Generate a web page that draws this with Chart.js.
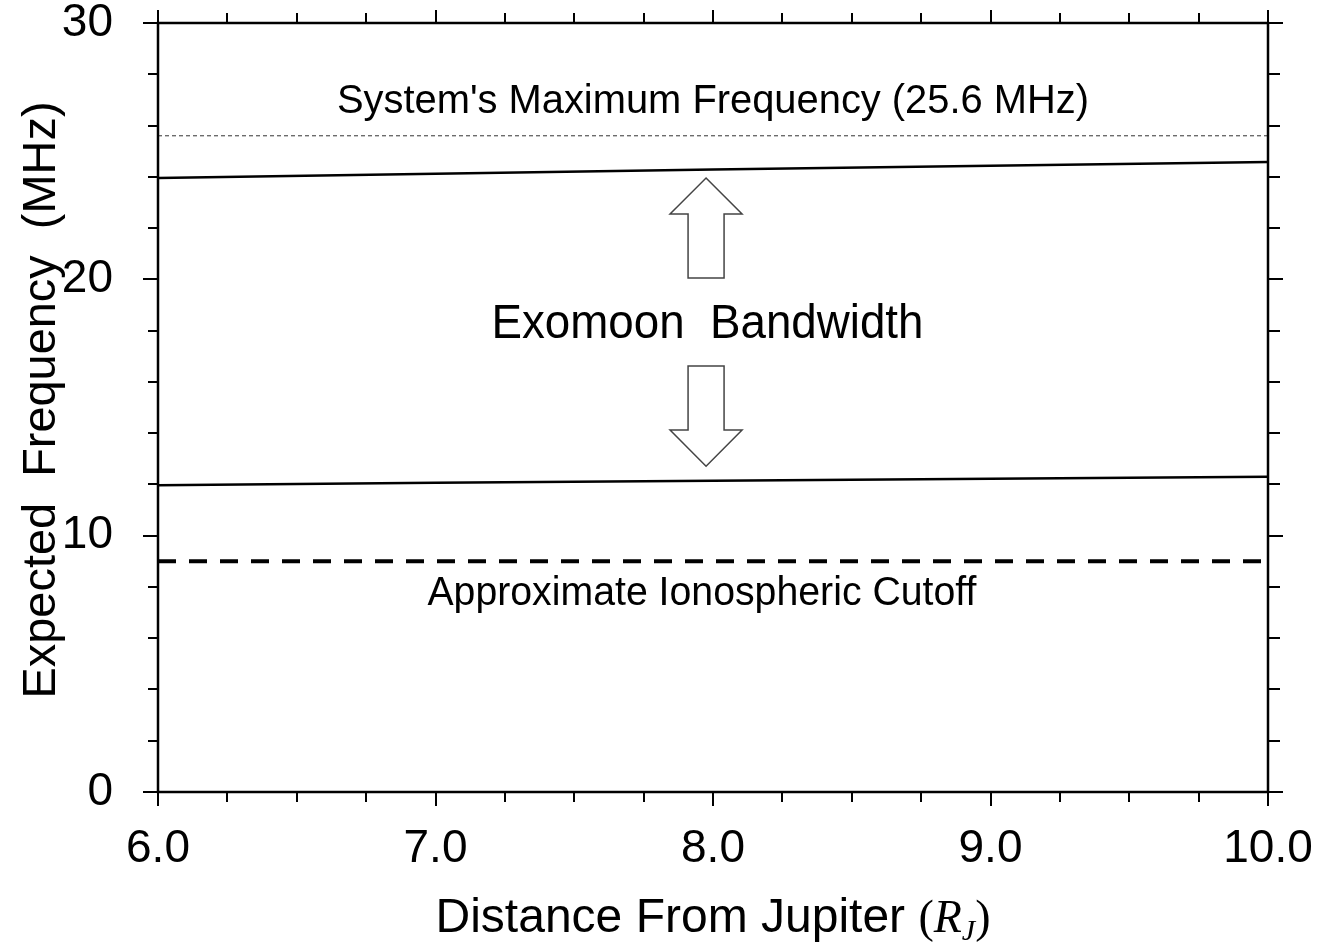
<!DOCTYPE html>
<html>
<head>
<meta charset="utf-8">
<script src="https://cdn.jsdelivr.net/npm/chart.js@4"></script>
<style>
  html, body { margin: 0; padding: 0; background: #fff; }
  canvas { display: block; }
</style>
</head>
<body>
<canvas id="freqChart" width="1332" height="949"></canvas>
<script>
// values
const distances = [6.0, 7.0, 8.0, 9.0, 10.0];
const upperFreq = [23.95, 24.12, 24.28, 24.43, 24.58];
const lowerFreq = [11.97, 12.06, 12.14, 12.22, 12.30];
const maxFreq = [25.6, 25.6, 25.6, 25.6, 25.6];
const ionoCutoff = [9.0, 9.0, 9.0, 9.0, 9.0];
const xTickLabels = ["6.0", "7.0", "8.0", "9.0", "10.0"];
const yTickLabels = ["0", "10", "20", "30"];

const SANS = '"Liberation Sans", Arial, sans-serif';
const SERIF = '"Liberation Serif", "DejaVu Serif", serif';

// annotations (data coordinates)
const notes = [
    { text: "System's Maximum Frequency (25.6 MHz)", x: 8.0, y: 26.5, size: 40, width: 752 },
    { text: "Exomoon  Bandwidth", x: 7.98, y: 17.7, size: 48, width: 432 },
    { text: "Approximate Ionospheric Cutoff", x: 7.96, y: 7.29, size: 41, width: 549 },
];
const arrows = [
    { x: 7.975, tail: 20.05, headBase: 22.55, tip: 23.95 },
    { x: 7.975, tail: 16.62, headBase: 14.12, tip: 12.71 },
];

const toPoints = (ys) => distances.map((x, i) => ({ x: x, y: ys[i] }));

function labelFor(list, value) {
    return list.find((l) => Math.abs(parseFloat(l) - value) < 1e-6) || "";
}

function fitText(ctx, text, cx, baseline, width, font) {
    ctx.font = font;
    const w = ctx.measureText(text).width;
    ctx.save();
    ctx.translate(cx, baseline);
    ctx.scale(width / w, 1);
    ctx.textAlign = "center";
    ctx.textBaseline = "alphabetic";
    ctx.fillText(text, 0, 0);
    ctx.restore();
}

const decorations = {
    id: "decorations",
    afterDatasetsDraw(chart) {
        const { ctx, scales: { x, y } } = chart;
        ctx.save();
        ctx.fillStyle = "#000";
        notes.forEach((n) => {
            fitText(ctx, n.text, x.getPixelForValue(n.x), y.getPixelForValue(n.y),
                n.width, n.size + "px " + SANS);
        });

        ctx.strokeStyle = "#444";
        ctx.lineWidth = 1.5;
        ctx.fillStyle = "#fff";
        arrows.forEach((a) => {
            const cx = x.getPixelForValue(a.x);
            const tail = y.getPixelForValue(a.tail);
            const base = y.getPixelForValue(a.headBase);
            const tip = y.getPixelForValue(a.tip);
            ctx.beginPath();
            ctx.moveTo(cx - 18, tail);
            ctx.lineTo(cx - 18, base);
            ctx.lineTo(cx - 36, base);
            ctx.lineTo(cx, tip);
            ctx.lineTo(cx + 36, base);
            ctx.lineTo(cx + 18, base);
            ctx.lineTo(cx + 18, tail);
            ctx.closePath();
            ctx.fill();
            ctx.stroke();
        });
        ctx.restore();
    },
    afterDraw(chart) {
        const { ctx, chartArea: a, scales: { x, y } } = chart;
        ctx.save();
        ctx.strokeStyle = "#000";
        ctx.lineWidth = 2;
        ctx.beginPath();
        x.ticks.forEach((t) => {
            const px = Math.round(x.getPixelForValue(t.value));
            const major = Math.abs(t.value - Math.round(t.value)) < 1e-6;
            ctx.moveTo(px, a.bottom);
            ctx.lineTo(px, a.bottom + (major ? 14 : 10));
            ctx.moveTo(px, a.top);
            ctx.lineTo(px, a.top - (major ? 13 : 10));
        });
        y.ticks.forEach((t) => {
            const py = Math.round(y.getPixelForValue(t.value));
            const major = t.value % 10 === 0;
            ctx.moveTo(a.left, py);
            ctx.lineTo(a.left - (major ? 15 : 10), py);
            ctx.moveTo(a.right, py);
            ctx.lineTo(a.right + (major ? 15 : 12), py);
        });
        ctx.stroke();
        ctx.lineWidth = 2.5;
        ctx.strokeRect(a.left, a.top, a.right - a.left, a.bottom - a.top);

        // x axis title with math-style R_J
        ctx.fillStyle = "#000";
        const parts = [
            { t: "Distance From Jupiter ", f: "48px " + SANS, dy: 0 },
            { t: "(", f: "46px " + SERIF, dy: 0 },
            { t: "R", f: "italic 46px " + SERIF, dy: 0 },
            { t: "J", f: "italic 30px " + SERIF, dy: 8 },
            { t: ")", f: "46px " + SERIF, dy: 0 },
        ];
        let total = 0;
        parts.forEach((p) => { ctx.font = p.f; p.w = ctx.measureText(p.t).width; total += p.w; });
        const target = 555;
        const sx = target / total;
        ctx.save();
        ctx.translate((a.left + a.right) / 2 - target / 2, a.bottom + 140);
        ctx.scale(sx, 1);
        ctx.textBaseline = "alphabetic";
        ctx.textAlign = "left";
        let cur = 0;
        parts.forEach((p) => { ctx.font = p.f; ctx.fillText(p.t, cur, p.dy); cur += p.w; });
        ctx.restore();

        // y axis title
        ctx.save();
        ctx.translate(a.left - 103, a.top + 377);
        ctx.rotate(-Math.PI / 2);
        fitText(ctx, "Expected  Frequency  (MHz)", 0, 0, 597, "46px " + SANS);
        ctx.restore();
        ctx.restore();
    },
};

const ctx = document.getElementById("freqChart").getContext("2d");
new Chart(ctx, {
    type: "line",
    data: {
        datasets: [
            {
                label: "Upper limit",
                data: toPoints(upperFreq),
                borderColor: "#000",
                borderWidth: 2.5,
                pointRadius: 0,
            },
            {
                label: "Lower limit",
                data: toPoints(lowerFreq),
                borderColor: "#000",
                borderWidth: 2.5,
                pointRadius: 0,
            },
            {
                label: "System's Maximum Frequency",
                data: toPoints(maxFreq),
                borderColor: "#333",
                borderWidth: 1,
                borderDash: [4, 3],
                pointRadius: 0,
            },
            {
                label: "Approximate Ionospheric Cutoff",
                data: toPoints(ionoCutoff),
                borderColor: "#000",
                borderWidth: 4,
                borderDash: [18, 13],
                pointRadius: 0,
            },
        ],
    },
    options: {
        responsive: false,
        animation: false,
        devicePixelRatio: 1,
        layout: { padding: { top: 23, right: 64, left: 0, bottom: 0 } },
        plugins: {
            legend: { display: false },
            tooltip: { enabled: false },
        },
        scales: {
            x: {
                type: "linear",
                min: 6,
                max: 10,
                afterFit: (s) => {
                    s.height = 157;
                    s.paddingLeft = 0;
                    s.paddingRight = 0;
                },
                grid: { display: false },
                border: { display: false },
                ticks: {
                    stepSize: 0.25,
                    autoSkip: false,
                    maxRotation: 0,
                    padding: 22,
                    color: "#000",
                    font: { family: SANS, size: 46 },
                    callback: (v) => labelFor(xTickLabels, v),
                },
            },
            y: {
                min: 0,
                max: 30,
                afterFit: (s) => {
                    s.width = 158;
                    s.paddingTop = 0;
                    s.paddingBottom = 0;
                },
                grid: { display: false },
                border: { display: false },
                ticks: {
                    stepSize: 2,
                    autoSkip: false,
                    padding: 37,
                    color: "#000",
                    font: { family: SANS, size: 46 },
                    callback: (v) => labelFor(yTickLabels, v),
                },
            },
        },
    },
    plugins: [decorations],
});
</script>
</body>
</html>
